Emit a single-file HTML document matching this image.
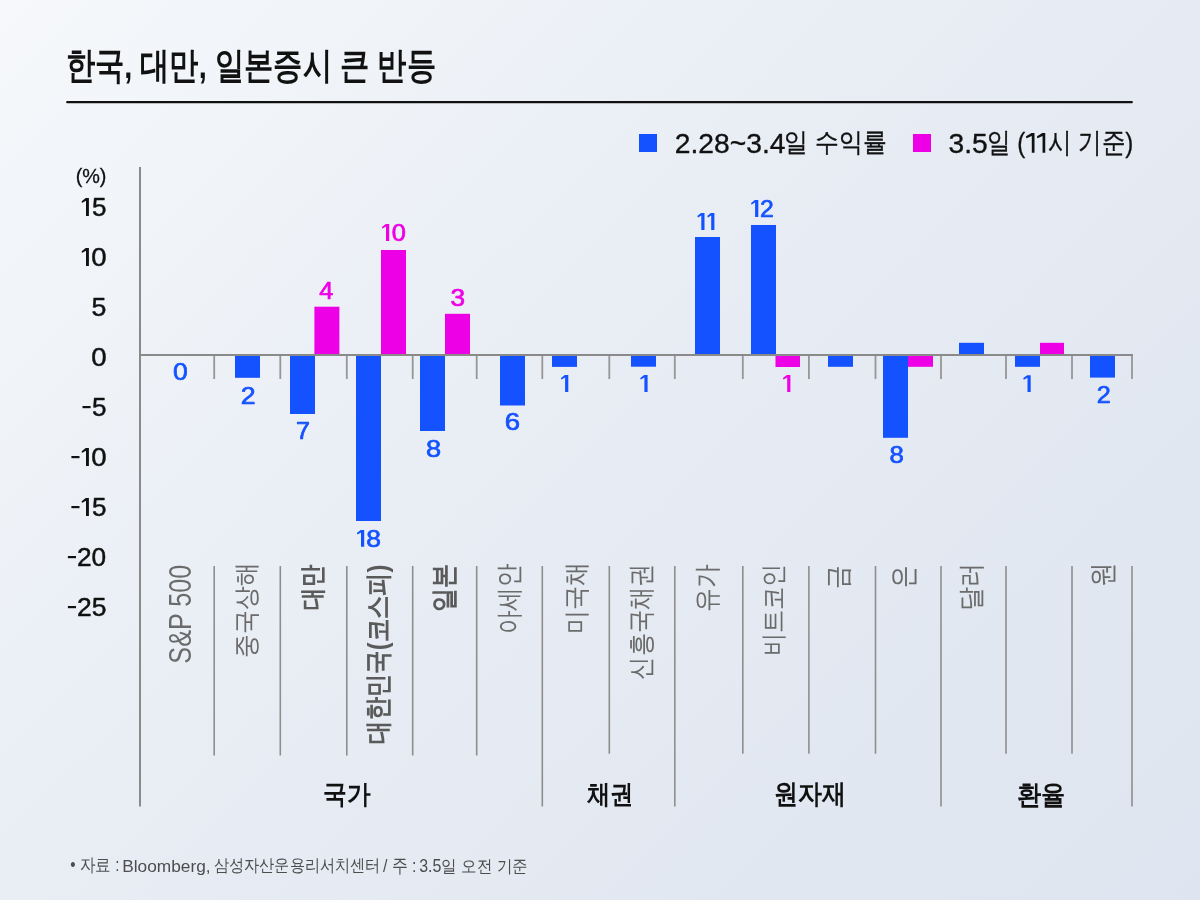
<!DOCTYPE html>
<html lang="ko"><head><meta charset="utf-8">
<style>
html,body{margin:0;padding:0}
body{width:1200px;height:900px;overflow:hidden;position:relative;background:linear-gradient(135deg,#f6f8fb 0%,#eef2f7 25%,#e7ecf4 50%,#e2e8f1 75%,#dee5f0 100%);font-family:"Liberation Sans",sans-serif}
svg{position:absolute;left:0;top:0;will-change:transform}
text{font-family:"Liberation Sans",sans-serif}
</style></head>
<body>
<svg width="1200" height="900" viewBox="0 0 1200 900">
<line x1="67.2" y1="102.2" x2="1131.8" y2="102.2" stroke="#111" stroke-width="2.2" stroke-linecap="round"/>
<rect x="639" y="134" width="18" height="18" fill="#1452ff"/>
<rect x="913" y="134" width="18" height="18" fill="#ee00e6"/>
<g fill="#1452ff">
<rect x="235" y="355" width="25.00" height="22.80"/>
<rect x="290" y="355" width="25.00" height="59.00"/>
<rect x="356" y="355" width="25.00" height="166.00"/>
<rect x="420" y="355" width="25.00" height="76.00"/>
<rect x="500" y="355" width="25.00" height="50.50"/>
<rect x="552" y="355" width="25.00" height="11.90"/>
<rect x="631" y="355" width="25.00" height="11.70"/>
<rect x="695" y="237" width="25.00" height="118.00"/>
<rect x="751" y="225" width="25.00" height="130.00"/>
<rect x="828" y="355" width="25.00" height="11.80"/>
<rect x="883" y="355" width="25.00" height="82.80"/>
<rect x="959" y="342.8" width="25.00" height="12.20"/>
<rect x="1015" y="355" width="25.00" height="11.80"/>
<rect x="1090" y="355" width="25.00" height="22.60"/>
</g>
<g fill="#ee00e6">
<rect x="314.4" y="306.7" width="25.00" height="48.30"/>
<rect x="381" y="250" width="25.00" height="105.00"/>
<rect x="445" y="313.8" width="25.00" height="41.20"/>
<rect x="775.5" y="355" width="24.50" height="12.00"/>
<rect x="908" y="355" width="25.00" height="11.80"/>
<rect x="1040" y="342.8" width="24.00" height="12.20"/>
</g>
<rect x="139" y="167" width="2" height="639.5" fill="#8a8a8a"/>
<rect x="139" y="354" width="994" height="2" fill="#8a8a8a"/>
<g fill="#969696">
<rect x="213.3" y="356" width="1.8" height="23"/>
<rect x="279.4" y="356" width="1.8" height="23"/>
<rect x="345.9" y="356" width="1.8" height="23"/>
<rect x="411.8" y="356" width="1.8" height="23"/>
<rect x="475.8" y="356" width="1.8" height="23"/>
<rect x="541.4" y="356" width="1.8" height="23"/>
<rect x="608.4" y="356" width="1.8" height="23"/>
<rect x="673.9" y="356" width="1.8" height="23"/>
<rect x="741.9" y="356" width="1.8" height="23"/>
<rect x="808.0" y="356" width="1.8" height="23"/>
<rect x="874.6" y="356" width="1.8" height="23"/>
<rect x="940.1" y="356" width="1.8" height="23"/>
<rect x="1005.1" y="356" width="1.8" height="23"/>
<rect x="1071.1" y="356" width="1.8" height="23"/>
<rect x="1131.1" y="356" width="1.8" height="23"/>
</g>
<g fill="#8e8e8e">
<rect x="213.4" y="566" width="1.6" height="189.5"/>
<rect x="279.5" y="566" width="1.6" height="189.5"/>
<rect x="346.0" y="566" width="1.6" height="189.5"/>
<rect x="411.9" y="566" width="1.6" height="189.5"/>
<rect x="475.9" y="566" width="1.6" height="189.5"/>
<rect x="541.5" y="566" width="1.6" height="240.5"/>
<rect x="608.5" y="566" width="1.6" height="187.7"/>
<rect x="674.0" y="566" width="1.6" height="240.5"/>
<rect x="742.0" y="566" width="1.6" height="187.7"/>
<rect x="808.1" y="566" width="1.6" height="187.7"/>
<rect x="874.7" y="566" width="1.6" height="187.7"/>
<rect x="940.2" y="566" width="1.6" height="240.5"/>
<rect x="1005.2" y="566" width="1.6" height="187.7"/>
<rect x="1071.2" y="566" width="1.6" height="187.7"/>
<rect x="1131.2" y="566" width="1.6" height="240.5"/>
</g>
<path d="M1031.50,133.00 L1034.50,133.00 L1034.50,152.75 L1031.80,152.75 L1031.80,135.96 L1026.60,138.23 Q1025.75,137.94 1026.05,136.36 Z" fill="#111"/>
<path d="M1042.25,133.00 L1045.25,133.00 L1045.25,152.75 L1042.55,152.75 L1042.55,135.96 L1037.60,138.23 Q1036.75,137.94 1037.05,136.36 Z" fill="#111"/>
<path d="M85.70,198.10 L88.90,198.10 L88.90,216.00 L86.00,216.00 L86.00,200.78 L82.30,202.84 Q81.45,202.57 81.75,201.14 Z" fill="#111"/>
<path d="M85.70,248.10 L88.90,248.10 L88.90,266.00 L86.00,266.00 L86.00,250.78 L82.30,252.84 Q81.45,252.57 81.75,251.14 Z" fill="#111"/>
<path d="M85.70,448.10 L88.90,448.10 L88.90,466.00 L86.00,466.00 L86.00,450.79 L82.30,452.84 Q81.45,452.58 81.75,451.14 Z" fill="#111"/>
<path d="M85.70,498.10 L88.90,498.10 L88.90,516.00 L86.00,516.00 L86.00,500.79 L82.30,502.84 Q81.45,502.58 81.75,501.14 Z" fill="#111"/>
<rect x="82.50" y="406.00" width="8.10" height="2.20" fill="#111"/>
<rect x="71.40" y="456.00" width="8.10" height="2.20" fill="#111"/>
<rect x="71.40" y="506.00" width="8.10" height="2.20" fill="#111"/>
<rect x="67.90" y="556.00" width="8.10" height="2.20" fill="#111"/>
<rect x="67.90" y="606.00" width="8.10" height="2.20" fill="#111"/>
<path d="M360.70,530.00 L364.20,530.00 L364.20,546.80 L361.00,546.80 L361.00,532.52 L357.60,534.45 Q356.75,534.20 357.05,532.86 Z" fill="#1452ff"/>
<path d="M385.70,224.00 L389.20,224.00 L389.20,241.00 L386.00,241.00 L386.00,226.55 L382.60,228.50 Q381.75,228.25 382.05,226.89 Z" fill="#ee00e6"/>
<path d="M564.80,375.00 L568.30,375.00 L568.30,392.00 L565.10,392.00 L565.10,377.55 L561.60,379.50 Q560.75,379.25 561.05,377.89 Z" fill="#1452ff"/>
<path d="M644.10,375.00 L647.60,375.00 L647.60,392.00 L644.40,392.00 L644.40,377.55 L640.90,379.50 Q640.05,379.25 640.35,377.89 Z" fill="#1452ff"/>
<path d="M701.00,212.90 L704.50,212.90 L704.50,229.90 L701.30,229.90 L701.30,215.45 L698.10,217.41 Q697.25,217.15 697.55,215.79 Z" fill="#1452ff"/>
<path d="M710.90,212.90 L714.40,212.90 L714.40,229.90 L711.20,229.90 L711.20,215.45 L708.00,217.41 Q707.15,217.15 707.45,215.79 Z" fill="#1452ff"/>
<path d="M754.80,200.00 L758.30,200.00 L758.30,217.00 L755.10,217.00 L755.10,202.55 L751.70,204.50 Q750.85,204.25 751.15,202.89 Z" fill="#1452ff"/>
<path d="M786.90,375.00 L790.40,375.00 L790.40,392.00 L787.20,392.00 L787.20,377.55 L783.60,379.50 Q782.75,379.25 783.05,377.89 Z" fill="#ee00e6"/>
<path d="M1027.20,375.20 L1030.70,375.20 L1030.70,391.90 L1027.50,391.90 L1027.50,377.70 L1023.90,379.63 Q1023.05,379.38 1023.35,378.04 Z" fill="#1452ff"/>
<text x="65.56" y="78.11" textLength="370.40" lengthAdjust="spacingAndGlyphs" style="font-size:36.54px;font-weight:bold;fill:#111">한국, 대만, 일본증시 큰 반등</text>
<text x="674.68" y="152.92" textLength="110.88" lengthAdjust="spacingAndGlyphs" style="font-size:28.06px;font-weight:normal;fill:#111;stroke:#111;stroke-width:0.35px;stroke-linejoin:round">2.28~3.4</text>
<text x="784.48" y="150.64" textLength="102.13" lengthAdjust="spacingAndGlyphs" style="font-size:26.46px;font-weight:normal;fill:#111;stroke:#111;stroke-width:0.35px;stroke-linejoin:round">일 수익률</text>
<text x="948.61" y="152.92" textLength="39.19" lengthAdjust="spacingAndGlyphs" style="font-size:28.06px;font-weight:normal;fill:#111;stroke:#111;stroke-width:0.35px;stroke-linejoin:round">3.5</text>
<text x="987.02" y="152.34" textLength="38.24" lengthAdjust="spacingAndGlyphs" style="font-size:28.34px;font-weight:normal;fill:#111;stroke:#111;stroke-width:0.35px;stroke-linejoin:round">일 (</text>
<text x="1047.77" y="152.28" textLength="85.40" lengthAdjust="spacingAndGlyphs" style="font-size:28.49px;font-weight:normal;fill:#111;stroke:#111;stroke-width:0.35px;stroke-linejoin:round">시 기준)</text>
<text x="75.63" y="183.39" textLength="30.85" lengthAdjust="spacingAndGlyphs" style="font-size:20.72px;font-weight:normal;fill:#111;stroke:#111;stroke-width:0.3px;stroke-linejoin:round">(%)</text>
<text x="91.97" y="216.35" textLength="14.49" lengthAdjust="spacingAndGlyphs" style="font-size:25.00px;font-weight:normal;fill:#111;stroke:#111;stroke-width:0.45px;stroke-linejoin:round">5</text>
<text x="91.31" y="266.12" textLength="15.33" lengthAdjust="spacingAndGlyphs" style="font-size:25.00px;font-weight:normal;fill:#111;stroke:#111;stroke-width:0.45px;stroke-linejoin:round">0</text>
<text x="91.62" y="316.37" textLength="14.84" lengthAdjust="spacingAndGlyphs" style="font-size:25.00px;font-weight:normal;fill:#111;stroke:#111;stroke-width:0.45px;stroke-linejoin:round">5</text>
<text x="91.15" y="366.33" textLength="15.37" lengthAdjust="spacingAndGlyphs" style="font-size:25.00px;font-weight:normal;fill:#111;stroke:#111;stroke-width:0.45px;stroke-linejoin:round">0</text>
<text x="91.97" y="416.35" textLength="14.49" lengthAdjust="spacingAndGlyphs" style="font-size:25.00px;font-weight:normal;fill:#111;stroke:#111;stroke-width:0.45px;stroke-linejoin:round">5</text>
<text x="91.31" y="466.12" textLength="15.33" lengthAdjust="spacingAndGlyphs" style="font-size:25.00px;font-weight:normal;fill:#111;stroke:#111;stroke-width:0.45px;stroke-linejoin:round">0</text>
<text x="91.97" y="516.35" textLength="14.49" lengthAdjust="spacingAndGlyphs" style="font-size:25.00px;font-weight:normal;fill:#111;stroke:#111;stroke-width:0.45px;stroke-linejoin:round">5</text>
<text x="76.99" y="566.06" textLength="29.22" lengthAdjust="spacingAndGlyphs" style="font-size:25.00px;font-weight:normal;fill:#111;stroke:#111;stroke-width:0.45px;stroke-linejoin:round">20</text>
<text x="76.96" y="616.25" textLength="29.42" lengthAdjust="spacingAndGlyphs" style="font-size:25.00px;font-weight:normal;fill:#111;stroke:#111;stroke-width:0.45px;stroke-linejoin:round">25</text>
<text x="173.08" y="379.95" textLength="14.76" lengthAdjust="spacingAndGlyphs" style="font-size:23.60px;font-weight:normal;fill:#1452ff;stroke:#1452ff;stroke-width:0.7px;stroke-linejoin:round">0</text>
<text x="240.84" y="403.51" textLength="14.83" lengthAdjust="spacingAndGlyphs" style="font-size:23.60px;font-weight:normal;fill:#1452ff;stroke:#1452ff;stroke-width:0.7px;stroke-linejoin:round">2</text>
<text x="296.14" y="439.46" textLength="13.97" lengthAdjust="spacingAndGlyphs" style="font-size:23.60px;font-weight:normal;fill:#1452ff;stroke:#1452ff;stroke-width:0.7px;stroke-linejoin:round">7</text>
<text x="319.37" y="299.32" textLength="14.07" lengthAdjust="spacingAndGlyphs" style="font-size:23.60px;font-weight:normal;fill:#ee00e6;stroke:#ee00e6;stroke-width:0.7px;stroke-linejoin:round">4</text>
<text x="366.19" y="547.21" textLength="14.71" lengthAdjust="spacingAndGlyphs" style="font-size:23.60px;font-weight:normal;fill:#1452ff;stroke:#1452ff;stroke-width:0.7px;stroke-linejoin:round">8</text>
<text x="391.72" y="241.29" textLength="14.10" lengthAdjust="spacingAndGlyphs" style="font-size:23.60px;font-weight:normal;fill:#ee00e6;stroke:#ee00e6;stroke-width:0.7px;stroke-linejoin:round">0</text>
<text x="425.95" y="457.10" textLength="15.12" lengthAdjust="spacingAndGlyphs" style="font-size:23.60px;font-weight:normal;fill:#1452ff;stroke:#1452ff;stroke-width:0.7px;stroke-linejoin:round">8</text>
<text x="450.44" y="306.18" textLength="14.59" lengthAdjust="spacingAndGlyphs" style="font-size:23.60px;font-weight:normal;fill:#ee00e6;stroke:#ee00e6;stroke-width:0.7px;stroke-linejoin:round">3</text>
<text x="504.85" y="430.38" textLength="15.33" lengthAdjust="spacingAndGlyphs" style="font-size:23.60px;font-weight:normal;fill:#1452ff;stroke:#1452ff;stroke-width:0.7px;stroke-linejoin:round">6</text>
<text x="760.03" y="217.18" textLength="13.75" lengthAdjust="spacingAndGlyphs" style="font-size:23.60px;font-weight:normal;fill:#1452ff;stroke:#1452ff;stroke-width:0.7px;stroke-linejoin:round">2</text>
<text x="889.51" y="462.59" textLength="14.33" lengthAdjust="spacingAndGlyphs" style="font-size:23.60px;font-weight:normal;fill:#1452ff;stroke:#1452ff;stroke-width:0.7px;stroke-linejoin:round">8</text>
<text x="1096.88" y="403.25" textLength="14.01" lengthAdjust="spacingAndGlyphs" style="font-size:23.60px;font-weight:normal;fill:#1452ff;stroke:#1452ff;stroke-width:0.7px;stroke-linejoin:round">2</text>
<text transform="translate(191.24,663.64) rotate(-90)" textLength="98.79" lengthAdjust="spacingAndGlyphs" style="font-size:30.66px;font-weight:normal;fill:#6b6b6b">S&amp;P 500</text>
<text transform="translate(255.00,657.60) rotate(-90)" textLength="95.15" lengthAdjust="spacingAndGlyphs" style="font-size:26.32px;font-weight:normal;fill:#6b6b6b">중국상해</text>
<text transform="translate(320.64,609.50) rotate(-90)" textLength="44.74" lengthAdjust="spacingAndGlyphs" style="font-size:26.44px;font-weight:bold;fill:#5a5a5a">대만</text>
<text transform="translate(386.53,743.52) rotate(-90)" textLength="178.84" lengthAdjust="spacingAndGlyphs" style="font-size:27.49px;font-weight:bold;fill:#5a5a5a">대한민국(코스피)</text>
<text transform="translate(453.02,611.71) rotate(-90)" textLength="48.16" lengthAdjust="spacingAndGlyphs" style="font-size:27.42px;font-weight:bold;fill:#5a5a5a">일본</text>
<text transform="translate(518.25,634.33) rotate(-90)" textLength="70.65" lengthAdjust="spacingAndGlyphs" style="font-size:26.84px;font-weight:normal;fill:#6b6b6b">아세안</text>
<text transform="translate(584.50,633.76) rotate(-90)" textLength="72.07" lengthAdjust="spacingAndGlyphs" style="font-size:26.45px;font-weight:normal;fill:#6b6b6b">미국채</text>
<text transform="translate(650.21,679.57) rotate(-90)" textLength="116.31" lengthAdjust="spacingAndGlyphs" style="font-size:27.15px;font-weight:normal;fill:#6b6b6b">신흥국채권</text>
<text transform="translate(716.47,611.58) rotate(-90)" textLength="47.45" lengthAdjust="spacingAndGlyphs" style="font-size:27.12px;font-weight:normal;fill:#6b6b6b">유가</text>
<text transform="translate(782.46,656.42) rotate(-90)" textLength="93.08" lengthAdjust="spacingAndGlyphs" style="font-size:25.90px;font-weight:normal;fill:#6b6b6b">비트코인</text>
<text transform="translate(847.29,588.63) rotate(-90)" textLength="23.57" lengthAdjust="spacingAndGlyphs" style="font-size:27.30px;font-weight:normal;fill:#6b6b6b">금</text>
<text transform="translate(913.25,587.72) rotate(-90)" textLength="22.52" lengthAdjust="spacingAndGlyphs" style="font-size:28.51px;font-weight:normal;fill:#6b6b6b">은</text>
<text transform="translate(979.58,611.18) rotate(-90)" textLength="48.27" lengthAdjust="spacingAndGlyphs" style="font-size:27.38px;font-weight:normal;fill:#6b6b6b">달러</text>
<text transform="translate(1111.74,587.33) rotate(-90)" textLength="24.49" lengthAdjust="spacingAndGlyphs" style="font-size:28.38px;font-weight:normal;fill:#6b6b6b">원</text>
<text x="323.48" y="802.71" textLength="47.31" lengthAdjust="spacingAndGlyphs" style="font-size:25.84px;font-weight:bold;fill:#111">국가</text>
<text x="586.62" y="802.66" textLength="46.68" lengthAdjust="spacingAndGlyphs" style="font-size:25.88px;font-weight:bold;fill:#111">채권</text>
<text x="774.41" y="802.90" textLength="71.95" lengthAdjust="spacingAndGlyphs" style="font-size:26.75px;font-weight:bold;fill:#111">원자재</text>
<text x="1016.52" y="803.51" textLength="48.42" lengthAdjust="spacingAndGlyphs" style="font-size:27.29px;font-weight:bold;fill:#111">환율</text>
<text x="70.29" y="871.28" textLength="49.08" lengthAdjust="spacingAndGlyphs" style="font-size:17.50px;font-weight:normal;fill:#4d4d4d">• 자료 :</text>
<text x="122.18" y="871.88" textLength="88.40" lengthAdjust="spacingAndGlyphs" style="font-size:17.27px;font-weight:normal;fill:#4d4d4d">Bloomberg,</text>
<text x="213.66" y="871.18" textLength="166.93" lengthAdjust="spacingAndGlyphs" style="font-size:17.22px;font-weight:normal;fill:#4d4d4d">삼성자산운용리서치센터</text>
<text x="382.89" y="871.50" textLength="33.65" lengthAdjust="spacingAndGlyphs" style="font-size:19.25px;font-weight:normal;fill:#4d4d4d">/ 주 :</text>
<text x="419.18" y="871.50" textLength="108.82" lengthAdjust="spacingAndGlyphs" style="font-size:17.49px;font-weight:normal;fill:#4d4d4d">3.5일 오전 기준</text>
</svg>
</body></html>
